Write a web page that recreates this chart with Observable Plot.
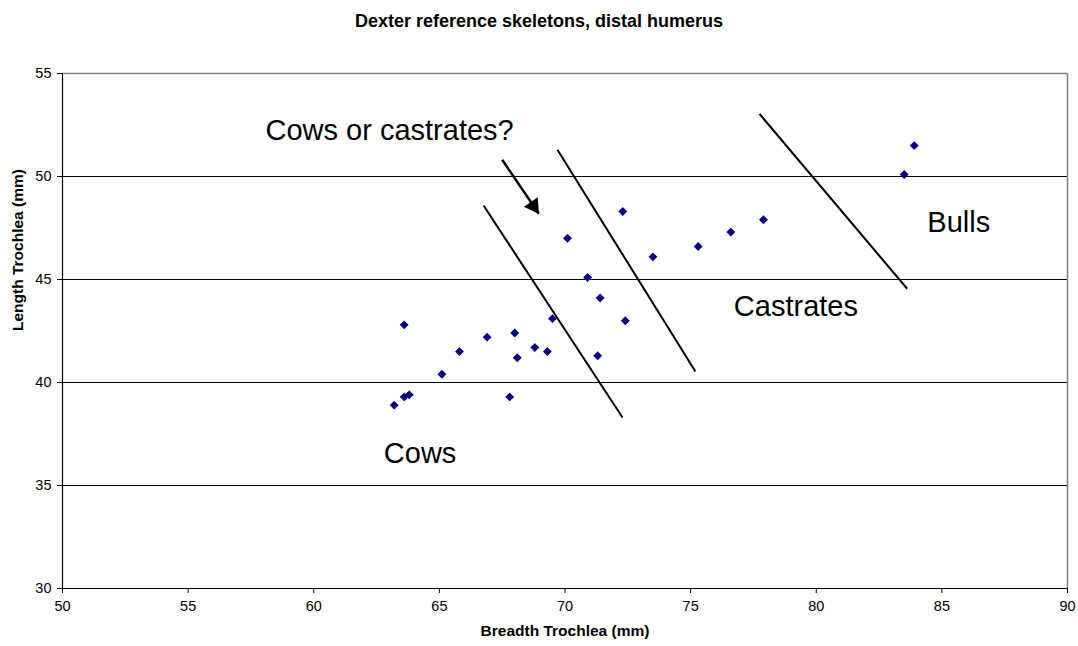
<!DOCTYPE html>
<html>
<head>
<meta charset="utf-8">
<script src="https://cdn.jsdelivr.net/npm/d3@7"></script>
<script src="https://cdn.jsdelivr.net/npm/@observablehq/plot@0.6"></script>
<style>
  html, body { margin: 0; padding: 0; background: #fff; }
  #wrap { width: 1078px; font-family: "Liberation Sans", Arial, sans-serif; }
  #title { height: 40px; line-height: 42px; text-align: center; font-weight: bold; font-size: 18px; color: #000; }
</style>
</head>
<body>
<div id="wrap">
  <div id="title">Dexter reference skeletons, distal humerus</div>
  <div id="chart"></div>
</div>
<script>
// Breadth Trochlea (mm)
const breadth = [63.2, 63.6, 63.8, 63.6, 65.1, 65.8, 66.9, 67.8, 68.0, 68.1, 68.8, 69.3, 69.5,
                 70.1, 70.9, 71.4, 71.3, 72.3, 72.4, 73.5, 75.3, 76.6, 77.9, 83.5, 83.9];
// Length Trochlea (mm)
const lengthT = [38.9, 39.3, 39.4, 42.8, 40.4, 41.5, 42.2, 39.3, 42.4, 41.2, 41.7, 41.5, 43.1,
                 47.0, 45.1, 44.1, 41.3, 48.3, 43.0, 46.1, 46.6, 47.3, 47.9, 50.1, 51.5];

const xTicks = [50, 55, 60, 65, 70, 75, 80, 85, 90];
const yTicks = [30, 35, 40, 45, 50, 55];
const gridY = [35, 40, 45, 50];

// dividing lines (data units)
const divX1 = [66.76, 69.70, 77.74];
const divY1 = [48.59, 51.30, 53.04];
const divX2 = [72.29, 75.19, 83.62];
const divY2 = [38.30, 40.53, 44.55];

// arrow (data units)
const arrowFrom = [67.50, 50.81];
const arrowTo = [68.96, 48.19];

// annotation labels
const labelText = ["Cows or castrates?", "Cows", "Castrates", "Bulls"];
const labelX = [58.08, 62.79, 76.72, 84.42];
const labelY = [52.20, 36.53, 43.70, 47.75];

const points = breadth.map((b, i) => ({x: b, y: lengthT[i]}));
const dividers = divX1.map((v, i) => ({x1: v, y1: divY1[i], x2: divX2[i], y2: divY2[i]}));
const labels = labelText.map((t, i) => ({t, x: labelX[i], y: labelY[i]}));
const arrow = [{x1: arrowFrom[0], y1: arrowFrom[1], x2: arrowTo[0], y2: arrowTo[1]}];

// arrow head orientation from screen direction
const W = 1078, H = 606, mL = 62, mR = 11, mT = 33, mB = 58;
const sx = (W - mL - mR) / 40, sy = (H - mT - mB) / 25;
const ddx = (arrowTo[0] - arrowFrom[0]) * sx, ddy = -(arrowTo[1] - arrowFrom[1]) * sy;
const dn = Math.hypot(ddx, ddy), ux = ddx / dn, uy = ddy / dn;
const headRot = Math.atan2(ux, -uy) * 180 / Math.PI;

const font = "Liberation Sans, Arial, sans-serif";

const chart = Plot.plot({
  width: W, height: H,
  marginLeft: mL, marginRight: mR, marginTop: mT, marginBottom: mB,
  style: {fontFamily: font, fontSize: "14.5px", color: "#000", background: "#fff"},
  x: {domain: [50, 90], ticks: xTicks, tickSize: 5, tickPadding: 6, label: null},
  y: {domain: [30, 55], ticks: yTicks, tickSize: 5, tickPadding: 6, label: null},
  marks: [
    Plot.ruleY(gridY, {stroke: "#000", strokeWidth: 1}),
    Plot.ruleY([55], {stroke: "#808080", strokeWidth: 1.5}),
    Plot.ruleX([90], {stroke: "#808080", strokeWidth: 1.5}),
    Plot.ruleX([50], {stroke: "#000", strokeWidth: 1.2}),
    Plot.ruleY([30], {stroke: "#000", strokeWidth: 1.2}),
    Plot.axisX({ticks: xTicks, tickSize: 5, tickPadding: 7, stroke: "#000", fontSize: 14.5}),
    Plot.axisY({ticks: yTicks, tickSize: 5, tickPadding: 6, stroke: "#000", fontSize: 14.5}),
    Plot.link(dividers, {x1: "x1", y1: "y1", x2: "x2", y2: "y2", stroke: "#000", strokeWidth: 2}),
    Plot.link(arrow, {x1: "x1", y1: "y1", x2: "x2", y2: "y2", stroke: "#000", strokeWidth: 2.5, insetEnd: 10}),
    Plot.dot([arrowTo], {x: d => d[0], y: d => d[1], symbol: "triangle", r: 6.2, fill: "#000",
      stroke: "none", rotate: headRot, dx: -ux * 9.5, dy: -uy * 9.5}),
    Plot.dot(points, {x: "x", y: "y", symbol: "diamond2", r: 4, fill: "#000080", stroke: "none"}),
    Plot.text(labels, {x: "x", y: "y", text: "t", textAnchor: "start", lineAnchor: "middle",
      fontSize: 29, fill: "#000", fontFamily: font}),
    Plot.text(["Breadth Trochlea (mm)"], {frameAnchor: "bottom", dy: 47, text: d => d,
      fontWeight: "bold", fontSize: 15.5, fill: "#000"}),
    Plot.text(["Length Trochlea (mm)"], {frameAnchor: "left", dx: -44, rotate: -90, text: d => d,
      fontWeight: "bold", fontSize: 15.5, fill: "#000"})
  ]
});
document.getElementById("chart").appendChild(chart);
</script>
</body>
</html>
